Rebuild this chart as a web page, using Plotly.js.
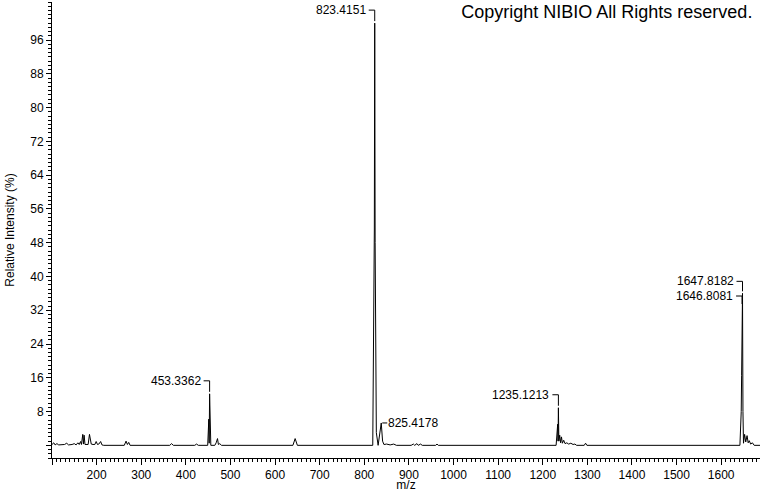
<!DOCTYPE html>
<html>
<head>
<meta charset="utf-8">
<script src="https://cdn.plot.ly/plotly-3.0.1.min.js"></script>
<style>html,body{margin:0;padding:0;background:#fff;}#chart{width:760px;height:492px;}</style>
</head>
<body>
<div id="chart"></div>
<script>
// Profile spectrum (m/z, relative intensity %)
const mzValues = [100,104,107,111,115,120,128,133,137,145,150,154,158,161,164,166,169,170.5,172,174,178,181,184,186,188,192,196,199,202,205,209,212,216,
  262,266,269,272,275,364,368,372,420,424,428,
  449,451.5,452.3,453.3,454.3,456,465,468,471,473,476,480,
  640,645,650,
  819,822.5,823.4,824.3,825.4,827,831,834,838,841,844,850,858,866,872,
  905,910,913,918,921,926,930,960,963,966,
  1230,1233.5,1234.3,1235.1,1236.2,1238,1240,1242,1244,1247,1250,1254,1258,1263,1268,1272,1276,1293,1296,1299,
  1642,1644.9,1645.8,1646.8,1647.8,1648.8,1650,1652.5,1655,1658,1660.5,1663,1666,1670,1674,1687];
const intensityValues = [0.2,0.6,0.1,0.4,0.1,0.2,0.2,0.5,0.1,0.2,0.4,0.1,0.6,0.2,0.9,0.2,2.6,0.3,2.4,0.2,0.3,0.2,2.6,0.8,0.3,0.2,0.2,0.9,0.2,0.3,0.9,0.1,0,
  0,1.0,0.2,0.7,0,0,0.4,0,0,0.3,0,
  0,6.2,0.5,12.2,0.5,0,0,0.6,1.6,0.2,0.4,0,
  0,1.6,0,
  0,51,100,48,20,3,0,2,5.3,1,0.2,0.3,0.1,0.3,0,
  0,0.3,0,0.4,0,0.3,0,0,0.3,0,
  0,5,1,8.9,1,2.4,0.6,2.0,0.5,1.2,0.4,0.6,0.3,0.5,0.2,0.3,0,0,0.5,0,
  0,8,16.6,33,36,8,0.5,2.6,0.8,2.3,0.6,1.1,0.3,0.6,0,0];

// Peak labels
const labelMz = [823.4, 453.3, 838, 1235.1, 1647.8, 1646.8];
const labelText = ['823.4151','453.3362','825.4178','1235.1213','1647.8182','1646.8081'];

// Axis ticks
const xTickVals = [100,200,300,400,500,600,700,800,900,1000,1100,1200,1300,1400,1500,1600];
const xTickText = ['','200','300','400','500','600','700','800','900','1000','1100','1200','1300','1400','1500','1600'];
const yTickVals = [0,8,16,24,32,40,48,56,64,72,80,88,96];
const yTickText = ['','8','16','24','32','40','48','56','64','72','80','88','96'];

const FONT = 'Liberation Sans, Arial, sans-serif';
// label placement style: pixel offset above peak, side
const labelDy = [13, 13, 0, 13, 12, 10];
const labelSide = ['left','left','right','left','left','left'];

const shapes = [];
const annotations = [];
labelMz.forEach((mz, i) => {
  const idx = mzValues.indexOf(mz);
  const inten = intensityValues[idx];
  const dy = labelDy[i];
  const line = {color:'#000', width:1};
  if (labelSide[i] === 'left') {
    shapes.push({type:'line', xref:'x', yref:'y', x0:mz, x1:mz, ysizemode:'pixel', yanchor:inten, y0:2, y1:dy, line});
    shapes.push({type:'line', xref:'x', yref:'y', xsizemode:'pixel', xanchor:mz, x0:-6, x1:0, ysizemode:'pixel', yanchor:inten, y0:dy, y1:dy, line});
    annotations.push({x:mz, y:inten, xref:'x', yref:'y', text:labelText[i], showarrow:false, xanchor:'right', yanchor:'middle', xshift:-7, yshift:dy, font:{family:FONT, size:12, color:'#000'}});
  } else {
    shapes.push({type:'line', xref:'x', yref:'y', xsizemode:'pixel', xanchor:mz, x0:1, x1:6, ysizemode:'pixel', yanchor:inten, y0:dy, y1:dy, line});
    annotations.push({x:mz, y:inten, xref:'x', yref:'y', text:labelText[i], showarrow:false, xanchor:'left', yanchor:'middle', xshift:5, yshift:dy, font:{family:FONT, size:12, color:'#000'}});
  }
});

const trace = {x: mzValues, y: intensityValues, type:'scatter', mode:'lines', line:{color:'#000', width:1}, hoverinfo:'skip'};

const layout = {
  width:760, height:492,
  margin:{l:52, r:0, t:2, b:34},
  paper_bgcolor:'#fff', plot_bgcolor:'#fff',
  showlegend:false,
  font:{family:FONT, size:12, color:'#000'},
  title:{text:'Copyright NIBIO All Rights reserved.', font:{family:FONT, size:18, color:'#000'}, x:0.99, xanchor:'right', xref:'container', y:0.99, yanchor:'top', yref:'container'},
  xaxis:{range:[100,1687], showgrid:false, zeroline:false, showline:true, linecolor:'#000', linewidth:1,
    tickmode:'array', tickvals:xTickVals, ticktext:xTickText, ticks:'outside', ticklen:6, tickcolor:'#000', tickfont:{family:FONT, size:12, color:'#000'},
    minor:{dtick:10, tick0:0, ticks:'outside', ticklen:3, tickcolor:'#000', showgrid:false},
    title:{text:'m/z', font:{family:FONT, size:12, color:'#000'}, standoff:4}},
  yaxis:{range:[-3,105], showgrid:false, zeroline:false, showline:true, linecolor:'#000', linewidth:1,
    tickmode:'array', tickvals:yTickVals, ticktext:yTickText, ticks:'outside', ticklen:5, tickcolor:'#000', tickfont:{family:FONT, size:12, color:'#000'},
    minor:{dtick:1, tick0:0, ticks:'outside', ticklen:3, tickcolor:'#000', showgrid:false},
    title:{text:'Relative Intensity (%)', font:{family:FONT, size:12, color:'#000'}, standoff:13}},
  shapes, annotations
};

Plotly.newPlot('chart', [trace], layout, {staticPlot:true, displayModeBar:false});
</script>
</body>
</html>
